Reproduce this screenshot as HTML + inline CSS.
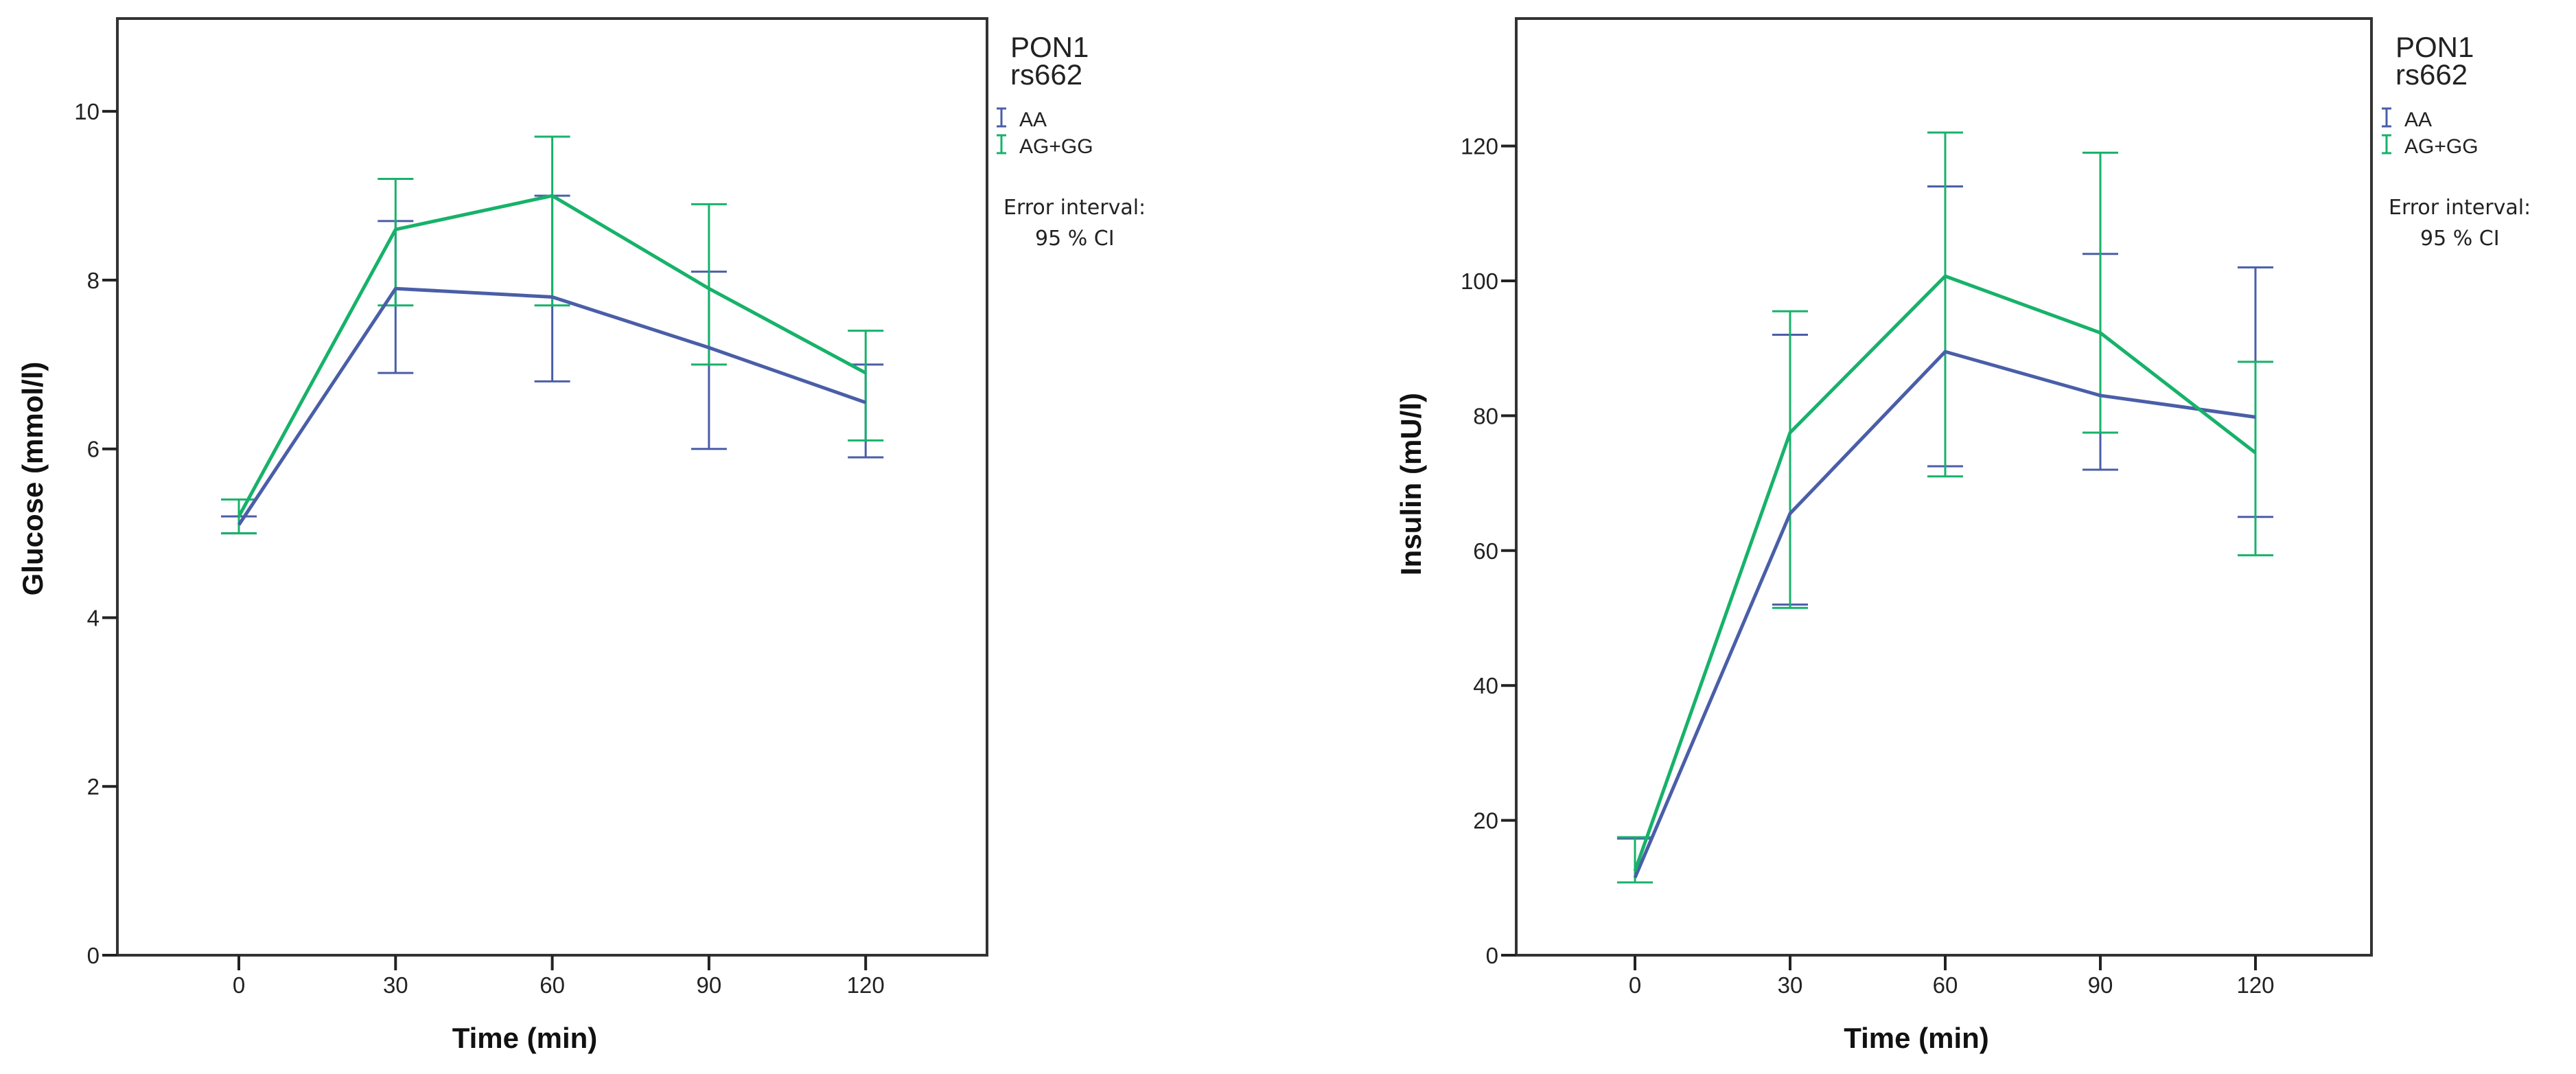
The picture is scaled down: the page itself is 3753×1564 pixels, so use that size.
<!DOCTYPE html>
<html><head><meta charset="utf-8"><style>
html,body{margin:0;padding:0;background:#fff;}
svg{display:block;font-family:"Liberation Sans",sans-serif;}
</style></head><body>
<svg id="c" width="3753" height="1564" viewBox="0 0 3753 1564"></svg>
<script>
const times=[0,30,60,90,120];
const xTickLabels=["0","30","60","90","120"];
const gluAA=[5.1,7.9,7.8,7.2,6.55];
const gluAALo=[5.0,6.9,6.8,6.0,5.9];
const gluAAHi=[5.2,8.7,9.0,8.1,7.0];
const gluGG=[5.2,8.6,9.0,7.9,6.9];
const gluGGLo=[5.0,7.7,7.7,7.0,6.1];
const gluGGHi=[5.4,9.2,9.7,8.9,7.4];
const gluTicks=[0,2,4,6,8,10];
const insAA=[11.5,65.5,89.5,83,79.8];
const insAALo=[10.8,52,72.5,72,65];
const insAAHi=[17.3,92,114,104,102];
const insGG=[12.5,77.5,100.7,92.3,74.5];
const insGGLo=[10.8,51.5,71,77.5,59.3];
const insGGHi=[17.5,95.5,122,119,88];
const insTicks=[0,20,40,60,80,100,120];

const NS="http://www.w3.org/2000/svg";
const svg=document.getElementById('c');
const BLUE="#4a5ea8",GREEN="#17b26a";
function mk(tag,attrs,parent){const e=document.createElementNS(NS,tag);for(const k in attrs)e.setAttribute(k,attrs[k]);(parent||svg).appendChild(e);return e;}

function chart(cfg){
  const g=mk('g',{});
  
  
  const L=cfg.left,R=cfg.right,T=27,B=1391;
  const xS=t=>cfg.x0+t*cfg.xStep/30;
  const yS=v=>B-(v/cfg.yMax)*(B-T);
  const frame=mk('rect',{x:L,y:T,width:R-L,height:B-T,fill:'none',stroke:'#333',"stroke-width":4},g);
  
  
  cfg.yTicks.forEach(v=>{
    const y=yS(v);
    const tk=mk('line',{x1:L-22,x2:L,y1:y,y2:y,stroke:'#222',"stroke-width":4},g);
    
    
    const tx=mk('text',{x:L-26,y:y+12,"text-anchor":"end","font-size":33,fill:'#222'},g);
    tx.textContent=String(v);
    
    
  });
  times.forEach((t,i)=>{
    const x=xS(t);
    const tk=mk('line',{x1:x,x2:x,y1:B,y2:B+22,stroke:'#222',"stroke-width":4},g);
    
    
    const tx=mk('text',{x:x,y:B+55,"text-anchor":"middle","font-size":33,fill:'#222'},g);
    tx.textContent=xTickLabels[i];
    
    
  });
  const xl=mk('text',{x:(L+R)/2-40,y:1526,"text-anchor":"middle","font-size":42,"font-weight":"bold",fill:'#111'},g);
  xl.textContent="Time (min)";
  
  
  const yl=mk('text',{x:0,y:0,"text-anchor":"middle","font-size":42,"font-weight":"bold",fill:'#111',transform:`translate(${cfg.ylx},${cfg.yly}) rotate(-90)`},g);
  yl.textContent=cfg.yTitle;
  
  
  cfg.series.forEach(s=>{
    s.lo.forEach((lo,i)=>{
      const x=xS(times[i]);
      const eb=mk('path',{d:`M${x} ${yS(lo)}V${yS(s.hi[i])}M${x-26} ${yS(lo)}H${x+26}M${x-26} ${yS(s.hi[i])}H${x+26}`,stroke:s.color,"stroke-width":3,fill:'none'},g);
      
      
    });
  });
  cfg.series.forEach(s=>{
    const pts=s.mean.map((v,i)=>`${xS(times[i])},${yS(v)}`).join(' ');
    const pl=mk('polyline',{points:pts,fill:'none',stroke:s.color,"stroke-width":5,"stroke-linejoin":"round"},g);
    
    
  });
  const lx=cfg.legX;
  const lg=mk('g',{},g);
  
  
  const t1=mk('text',{x:lx+20,y:83,"font-size":42,fill:'#222'},lg);t1.textContent="PON1";
  const t2=mk('text',{x:lx+20,y:123,"font-size":42,fill:'#222'},lg);t2.textContent="rs662";
  [[BLUE,"AA",184],[GREEN,"AG+GG",223]].forEach(e=>{
    const ic=mk('path',{d:`M${lx} ${e[2]-26}H${lx+14}M${lx+7} ${e[2]-26}V${e[2]}M${lx} ${e[2]}H${lx+14}`,stroke:e[0],"stroke-width":3,fill:'none'},lg);
    
    
    const tt=mk('text',{x:lx+33,y:e[2],"font-size":30,fill:'#222'},lg);tt.textContent=e[1];
    
    
  });
  const t3=mk('text',{x:lx+10,y:312,"font-size":30,fill:'#222',"font-family":"DejaVu Sans, sans-serif"},lg);t3.textContent="Error interval:";
  const t4=mk('text',{x:lx+56,y:357,"font-size":30,fill:'#222',"font-family":"DejaVu Sans, sans-serif"},lg);t4.textContent="95 % CI";
}
chart({name:'glucose-chart',left:171,right:1438,x0:348,xStep:228.3,yMax:11.1,yTicks:gluTicks,yTitle:"Glucose (mmol/l)",ylx:62,yly:697,legX:1452,
  series:[{key:'aa',color:BLUE,mean:gluAA,lo:gluAALo,hi:gluAAHi},{key:'ag-gg',color:GREEN,mean:gluGG,lo:gluGGLo,hi:gluGGHi}]});
chart({name:'insulin-chart',left:2209,right:3455,x0:2382,xStep:226,yMax:138.9,yTicks:insTicks,yTitle:"Insulin (mU/l)",ylx:2070,yly:705,legX:3470,
  series:[{key:'aa',color:BLUE,mean:insAA,lo:insAALo,hi:insAAHi},{key:'ag-gg',color:GREEN,mean:insGG,lo:insGGLo,hi:insGGHi}]});
</script>
</body></html>
